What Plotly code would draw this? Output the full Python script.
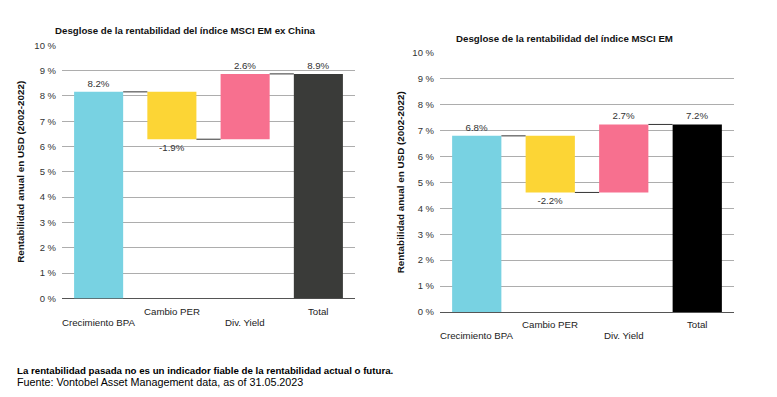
import plotly.graph_objects as go

categories = ["Crecimiento BPA", "Cambio PER", "Div. Yield", "Total"]
ex_china_values = [8.16, -1.87, 2.58, 8.87]
ex_china_labels = ["8.2%", "-1.9%", "2.6%", "8.9%"]
em_values = [6.79, -2.18, 2.62, 7.23]
em_labels = ["6.8%", "-2.2%", "2.7%", "7.2%"]
y_ticks = list(range(0, 11))
y_ticktext = [f"{v} %" for v in y_ticks]

title_left = "Desglose de la rentabilidad del índice MSCI EM ex China"
title_right = "Desglose de la rentabilidad del índice MSCI EM"
y_title = "Rentabilidad anual en USD (2002-2022)"
note_bold = "La rentabilidad pasada no es un indicador fiable de la rentabilidad actual o futura."
note_source = "Fuente: Vontobel Asset Management data, as of 31.05.2023"

FONT = "Liberation Sans, Arial, sans-serif"
BAR_W = 0.67
colors_left = ["#78d2e2", "#fcd535", "#f7708f", "#3a3b39"]
colors_right = ["#78d2e2", "#fcd535", "#f7708f", "#000000"]

PAGE_W, PAGE_H, BODY = 777, 397, 8
FIG_W, FIG_H = PAGE_W - 2 * BODY, PAGE_H - 2 * BODY
V_SCALE, V_OFF = 0.9745, 5.8   # observed vertical mapping of the page photo


def fx(p):
    return (p - BODY) / FIG_W


def fy(p):
    q = (p - V_OFF) / V_SCALE
    return 1 - (q - BODY) / FIG_H


def bases_for(values):
    bases, run = [], 0.0
    for i, v in enumerate(values):
        if i == len(values) - 1:
            bases.append(0.0)
        else:
            bases.append(run)
            run += v
    return bases


def levels_for(values):
    b = bases_for(values)
    return [b[i] + values[i] for i in range(len(values))]


fig = go.Figure()
xs = list(range(len(categories)))

panels = [
    dict(vals=ex_china_values, labels=ex_china_labels, cols=colors_left,
         xa="x", ya="y", hi=312, lo=323),
    dict(vals=em_values, labels=em_labels, cols=colors_right,
         xa="x2", ya="y2", hi=325, lo=336.7),
]

for p in panels:
    vals = p["vals"]
    fig.add_trace(go.Bar(
        x=xs, y=vals, base=bases_for(vals), width=BAR_W,
        marker=dict(color=p["cols"], line=dict(width=0)),
        text=p["labels"], textposition="outside", cliponaxis=False,
        textfont=dict(family=FONT, size=9.7, color="#333333"),
        xaxis=p["xa"], yaxis=p["ya"], showlegend=False, hoverinfo="skip",
    ))
    lv = levels_for(vals)
    for i in range(len(vals) - 1):
        fig.add_shape(type="line", xref=p["xa"], yref=p["ya"],
                      x0=xs[i] + BAR_W / 2, x1=xs[i + 1] - BAR_W / 2,
                      y0=lv[i], y1=lv[i],
                      line=dict(color="#333333", width=1))
    for i, c in enumerate(categories):
        fig.add_annotation(text=c, xref=p["xa"], yref="paper", x=xs[i],
                           y=fy(p["lo"] if i % 2 == 0 else p["hi"]),
                           xanchor="center", yanchor="middle", showarrow=False,
                           font=dict(family=FONT, size=9.7, color="#222222"))

xaxis_common = dict(range=[-0.5, 3.5], showticklabels=False,
                    showgrid=False, zeroline=False, showline=False, ticks="")
yaxis_common = dict(range=[0, 10], tickvals=y_ticks, ticktext=y_ticktext,
                    showgrid=True, gridcolor="#adadad", gridwidth=1,
                    zeroline=True, zerolinecolor="#555555", zerolinewidth=1,
                    showline=False, ticks="", ticklabelstandoff=5,
                    tickfont=dict(family=FONT, size=9.5, color="#333333"))

fig.update_layout(
    width=FIG_W, height=FIG_H,
    margin=dict(l=0, r=0, t=0, b=0),
    paper_bgcolor="white", plot_bgcolor="white",
    font=dict(family=FONT, color="#222222"),
    xaxis=dict(domain=[fx(62), fx(355)], anchor="y", **xaxis_common),
    yaxis=dict(domain=[fy(299), fy(45)], anchor="x", **yaxis_common),
    xaxis2=dict(domain=[fx(440), fx(734)], anchor="y2", **xaxis_common),
    yaxis2=dict(domain=[fy(312.7), fy(52.3)], anchor="x2", **yaxis_common),
    bargap=0.33,
)

bold = dict(family=FONT, size=9.7, color="#111111")
ybold = dict(family=FONT, size=9.9, color="#111111")
fig.add_annotation(text="<b>" + title_left + "</b>", xref="paper", yref="paper",
                   x=fx(185.5), y=fy(30), xanchor="center", yanchor="middle",
                   showarrow=False, font=bold)
fig.add_annotation(text="<b>" + title_right + "</b>", xref="paper", yref="paper",
                   x=fx(564), y=fy(38), xanchor="center", yanchor="middle",
                   showarrow=False, font=bold)
fig.add_annotation(text="<b>" + y_title + "</b>", xref="paper", yref="paper",
                   x=fx(21), y=fy(172), xanchor="center", yanchor="middle",
                   textangle=-90, showarrow=False, font=ybold)
fig.add_annotation(text="<b>" + y_title + "</b>", xref="paper", yref="paper",
                   x=fx(400), y=fy(182.5), xanchor="center", yanchor="middle",
                   textangle=-90, showarrow=False, font=ybold)
fig.add_annotation(text="<b>" + note_bold + "</b>", xref="paper", yref="paper",
                   x=fx(15), y=fy(371), xanchor="left", yanchor="middle",
                   showarrow=False, font=dict(family=FONT, size=9.7, color="#000000"))
fig.add_annotation(text=note_source, xref="paper", yref="paper",
                   x=fx(15), y=fy(383), xanchor="left", yanchor="middle",
                   showarrow=False, font=dict(family=FONT, size=10.75, color="#000000"))

fig.write_html("out.html")
